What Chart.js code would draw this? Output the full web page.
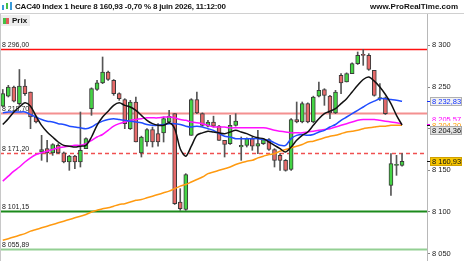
<!DOCTYPE html>
<html>
<head>
<meta charset="utf-8">
<script src="https://cdn.jsdelivr.net/npm/chart.js@4.4.1/dist/chart.umd.min.js"></script>
<style>
  html, body { margin: 0; padding: 0; background: #fff; }
  #wrap { position: relative; width: 464px; height: 261px; overflow: hidden;
          font-family: Arial, "Liberation Sans", sans-serif; }
  #chart { position: absolute; left: 0; top: 0; }
  #hdr { position: absolute; left: 15px; top: 2px; font-size: 8px; font-weight: bold;
         letter-spacing: -0.2px; line-height: 10px; color: #111; white-space: nowrap; }
  #icon { position: absolute; left: 2px; top: 2px; width: 11px; height: 10px; }
  #icon i { position: absolute; width: 2px; }
  #site { position: absolute; right: 6px; top: 2px; font-size: 8px; font-weight: bold;
          line-height: 10px; color: #111; }
  #sep { position: absolute; left: 0; top: 13px; width: 464px; height: 1px; background: #d0d0d0; }
  #lborder { position: absolute; left: 0; top: 14px; width: 1px; height: 247px; background: #c8c8c8; }
  #legend { position: absolute; left: 1px; top: 15px; height: 11px; padding: 0 3px 0 2px;
            background: #eeeeee; font-size: 8px; font-weight: bold; line-height: 11px; color: #111; }
  #legend b { display: inline-block; width: 3px; height: 6px; vertical-align: -1px; }
</style>
</head>
<body>
<div id="wrap">
  <canvas id="chart" width="464" height="261"></canvas>
  <div id="sep"></div>
  <div id="lborder"></div>
  <div id="icon">
    <i style="left:0;top:3px;height:5px;background:#3a9ad9"></i>
    <i style="left:4px;top:1px;height:6px;background:#46c046"></i>
    <i style="left:8px;top:0;height:8px;background:#3a9ad9"></i>
  </div>
  <div id="hdr">CAC40 Index 1 heure 8 160,93 -0,70 % 8 juin 2026, 11:12:00</div>
  <div id="site">www.ProRealTime.com</div>
  <div id="legend"><b style="background:#46c046"></b><b style="background:#e05a5a;margin-right:3px"></b>Prix</div>
</div>
<script>
// hourly candles, oldest first
const opens  = [8227, 8239, 8250, 8230, 8251, 8244, 8214, 8172, 8176, 8171,
                8180, 8171, 8160, 8167, 8160, 8176, 8224, 8247, 8255, 8268,
                8258, 8242, 8235, 8200, 8232, 8171, 8184, 8199, 8194, 8195,
                8208, 8218, 8112, 8103, 8192, 8235, 8218, 8203, 8208, 8203,
                8186, 8182, 8204, 8178, 8180, 8188, 8179, 8182, 8187, 8175,
                8168, 8162, 8151, 8211, 8208, 8230, 8208, 8239, 8247, 8239,
                8219, 8264, 8256, 8266, 8278, 8289, 8288, 8270, 8236, 8237,
                8132, 8156, 8156];
const highs  = [8247, 8252, 8251, 8271, 8259, 8244, 8215, 8192, 8186, 8182,
                8182, 8172, 8168, 8168, 8220, 8189, 8249, 8258, 8286, 8269,
                8259, 8243, 8236, 8234, 8238, 8191, 8200, 8202, 8206, 8214,
                8222, 8218, 8128, 8146, 8236, 8244, 8219, 8210, 8215, 8204,
                8186, 8216, 8218, 8190, 8189, 8190, 8198, 8188, 8188, 8176,
                8170, 8163, 8212, 8232, 8232, 8231, 8239, 8256, 8248, 8240,
                8246, 8266, 8267, 8279, 8292, 8295, 8290, 8270, 8254, 8238,
                8170, 8168, 8170];
const lows   = [8226, 8238, 8232, 8228, 8240, 8200, 8207, 8162, 8160, 8168,
                8170, 8159, 8150, 8152, 8154, 8176, 8216, 8246, 8254, 8258,
                8240, 8234, 8200, 8199, 8184, 8166, 8179, 8178, 8179, 8184,
                8206, 8109, 8102, 8102, 8192, 8218, 8203, 8202, 8202, 8186,
                8166, 8181, 8203, 8162, 8178, 8174, 8170, 8181, 8174, 8154,
                8150, 8149, 8150, 8207, 8207, 8207, 8207, 8238, 8228, 8212,
                8218, 8242, 8256, 8266, 8277, 8276, 8270, 8239, 8234, 8217,
                8120, 8144, 8155];
const closes = [8242, 8250, 8233, 8251, 8242, 8214, 8208, 8175, 8171, 8181,
                8171, 8160, 8167, 8160, 8174, 8188, 8248, 8255, 8268, 8259,
                8242, 8236, 8206, 8232, 8184, 8190, 8199, 8184, 8184, 8212,
                8215, 8110, 8104, 8145, 8235, 8219, 8204, 8208, 8203, 8186,
                8181, 8204, 8209, 8180, 8188, 8179, 8182, 8187, 8175, 8162,
                8162, 8150, 8211, 8208, 8230, 8208, 8238, 8246, 8240, 8219,
                8244, 8255, 8266, 8278, 8288, 8288, 8271, 8240, 8236.5, 8218,
                8158, 8156.4, 8160.93];

// moving averages
const maBlack   = [8205, 8212, 8220, 8226, 8231, 8227, 8215, 8204, 8196, 8190,
                   8184, 8180, 8179, 8178, 8179, 8180, 8190, 8204, 8214, 8221,
                   8228, 8231, 8228, 8226, 8222, 8216, 8210, 8206, 8204, 8204,
                   8207, 8200, 8176, 8167, 8179, 8192, 8195, 8197, 8196, 8195,
                   8194, 8196, 8198, 8196, 8194, 8191, 8189, 8188, 8184, 8180,
                   8176, 8172, 8178, 8186, 8192, 8196, 8204, 8212, 8218, 8221,
                   8224, 8230, 8236, 8244, 8252, 8259, 8262, 8257, 8250, 8241,
                   8230, 8216, 8204.36];
const maBlue    = [8219, 8220, 8220, 8220, 8220, 8217, 8214, 8211, 8209, 8208,
                   8206, 8205, 8203, 8202, 8201, 8200, 8202, 8206, 8209, 8211,
                   8212, 8211, 8210, 8209, 8208, 8207, 8205, 8204, 8204, 8205,
                   8206, 8206, 8205, 8203, 8202, 8203, 8202, 8200, 8198, 8194,
                   8191, 8190, 8188, 8188, 8188, 8188, 8188, 8187, 8186, 8183,
                   8180, 8180, 8188, 8192, 8193, 8192, 8193, 8196, 8198, 8202,
                   8205, 8210, 8214, 8218, 8222, 8226, 8230, 8233, 8236, 8236,
                   8235, 8234, 8232.83];
const maMagenta = [8137, 8143, 8149, 8154, 8160, 8165, 8169, 8171, 8173, 8175,
                   8177, 8178, 8179, 8180, 8180, 8182, 8186, 8190, 8193, 8198,
                   8203, 8206, 8208, 8210, 8211, 8212, 8213, 8213, 8213, 8214,
                   8214, 8213, 8211, 8210, 8208, 8207, 8206, 8204, 8202, 8202,
                   8202, 8201, 8201, 8201, 8201, 8201, 8201, 8201, 8200, 8198,
                   8197, 8196, 8195, 8195, 8195, 8196, 8197, 8198, 8199, 8200,
                   8202, 8204, 8206, 8208, 8210, 8211, 8211, 8211, 8210, 8209,
                   8208, 8207, 8205.57];
const maOrange  = [8066, 8068, 8070, 8072, 8074, 8077, 8079, 8081, 8083, 8085,
                   8087, 8089, 8091, 8093, 8095, 8097, 8100, 8102, 8104, 8105,
                   8107, 8109, 8110, 8112, 8114, 8115, 8117, 8119, 8121, 8123,
                   8125, 8128, 8131, 8133, 8136, 8139, 8142, 8146, 8148, 8150,
                   8152, 8154, 8157, 8159, 8161, 8162, 8165, 8167, 8169, 8170,
                   8173, 8175, 8177, 8179, 8181, 8184, 8185, 8187, 8189, 8191,
                   8192, 8194, 8196, 8197, 8198, 8200, 8201, 8202, 8203, 8203,
                   8204, 8204, 8204.20];

// horizontal levels
const levels = [8296.00, 8218.70, 8171.20, 8101.15, 8055.89];
const levelStyles = [
  {color: '#ff1010', width: 1.5, dash: []},
  {color: '#f49090', width: 2, dash: []},
  {color: '#f05050', width: 1.5, dash: [4, 3]},
  {color: '#1b8a1b', width: 2, dash: []},
  {color: '#93cf93', width: 2, dash: []}
];

const slots = Array.from({length: 77}, (_, i) => String(i));
const last = closes.length - 1;

function fmt(v, d) {
  return v.toFixed(d).replace('.', ',').replace(/\B(?=(\d{3})+(?!\d))/g, ' ');
}

const FONT = 'Arial, "Liberation Sans", sans-serif';
Chart.defaults.font.family = FONT;

const levelPlugin = {
  id: 'levels',
  beforeDatasetsDraw(chart) {
    const {ctx, chartArea, scales: {y}} = chart;
    ctx.save();
    levels.forEach((v, i) => {
      const st = levelStyles[i];
      const py = Math.round(y.getPixelForValue(v)) + 0.5;
      ctx.strokeStyle = st.color;
      ctx.lineWidth = st.width;
      ctx.setLineDash(st.dash);
      ctx.beginPath();
      ctx.moveTo(chartArea.left, py);
      ctx.lineTo(chartArea.right, py);
      ctx.stroke();
      ctx.setLineDash([]);
      ctx.fillStyle = '#222';
      ctx.font = '7px ' + FONT;
      ctx.textBaseline = 'alphabetic';
      ctx.fillText(fmt(v, 2), chartArea.left + 2, py - 2.5);
    });
    ctx.restore();
  }
};

const tagPlugin = {
  id: 'tags',
  afterDraw(chart) {
    const {ctx, chartArea, scales: {y}} = chart;
    const tags = [
      {v: maBlue[last], text: '#1030ff', bg: '#f2f2f2', border: '#b0b0b0', dy: 0},
      {v: maMagenta[last], text: '#ff00ff', bg: '#ffffff', border: null, dy: -5},
      {v: maOrange[last], text: '#ff9900', bg: '#ffffff', border: null, dy: 0},
      {v: maBlack[last], text: '#111', bg: '#e2e2e2', border: '#a8a8a8', dy: 5},
      {v: closes[last], text: '#111', bg: '#f7c600', border: '#d0a000', dy: 0}
    ];
    ctx.save();
    ctx.font = '7.5px ' + FONT;
    ctx.textBaseline = 'middle';
    tags.forEach(t => {
      const py = y.getPixelForValue(t.v) + t.dy;
      const x0 = chartArea.right + 3;
      ctx.fillStyle = t.bg;
      ctx.fillRect(x0, Math.round(py) - 4, 32, 9);
      if (t.border) {
        ctx.strokeStyle = t.border;
        ctx.lineWidth = 1;
        ctx.strokeRect(x0 + 0.5, Math.round(py) - 3.5, 31, 8);
      }
      ctx.strokeStyle = t.text;
      ctx.beginPath();
      ctx.moveTo(chartArea.right, Math.round(y.getPixelForValue(t.v)) + 0.5);
      ctx.lineTo(chartArea.right + 3, Math.round(y.getPixelForValue(t.v)) + 0.5);
      ctx.stroke();
      ctx.fillStyle = t.text;
      ctx.fillText(fmt(t.v, 2), x0 + 2, Math.round(py) + 0.5);
    });
    ctx.restore();
  }
};

const ctx = document.getElementById('chart').getContext('2d');
const chart = new Chart(ctx, {
  type: 'bar',
  data: {
    labels: slots,
    datasets: [
      {type: 'line', data: maBlack, borderColor: '#111', borderWidth: 1.5, pointRadius: 0, tension: 0.3, order: 0},
      {type: 'line', data: maBlue, borderColor: '#1f4cff', borderWidth: 1.5, pointRadius: 0, tension: 0.3, order: 0},
      {type: 'line', data: maMagenta, borderColor: '#ff10ff', borderWidth: 1.5, pointRadius: 0, tension: 0.3, order: 0},
      {type: 'line', data: maOrange, borderColor: '#ff9a10', borderWidth: 1.5, pointRadius: 0, tension: 0.3, order: 0},
      {
        data: opens.map((o, i) => [o, closes[i]]),
        backgroundColor: opens.map((o, i) => closes[i] >= o ? '#44d444' : '#e66a6a'),
        borderColor: '#3a3a3a', borderWidth: 1, borderSkipped: false,
        barThickness: 4, minBarLength: 1, grouped: false, order: 1
      },
      {
        data: lows.map((l, i) => [l, highs[i]]),
        backgroundColor: '#555', barThickness: 1, grouped: false, order: 2
      }
    ]
  },
  options: {
    responsive: false,
    animation: false,
    layout: {padding: {top: 14, left: 0, right: 0, bottom: 0}},
    plugins: {legend: {display: false}, tooltip: {enabled: false}},
    scales: {
      x: {display: false, offset: true},
      y: {
        position: 'right',
        min: 8041.2,
        max: 8337.6,
        afterFit(s) { s.width = 37; s.paddingTop = 0; s.paddingBottom = 0; },
        ticks: {
          stepSize: 50,
          includeBounds: false,
          color: '#222',
          padding: 2,
          font: {size: 7.5},
          callback: v => v === 8200 ? '' : fmt(v, 0)
        },
        grid: {drawOnChartArea: false, tickLength: 3, color: '#888'},
        border: {color: '#b8b8b8'}
      }
    }
  },
  plugins: [levelPlugin, tagPlugin]
});
</script>
</body>
</html>
